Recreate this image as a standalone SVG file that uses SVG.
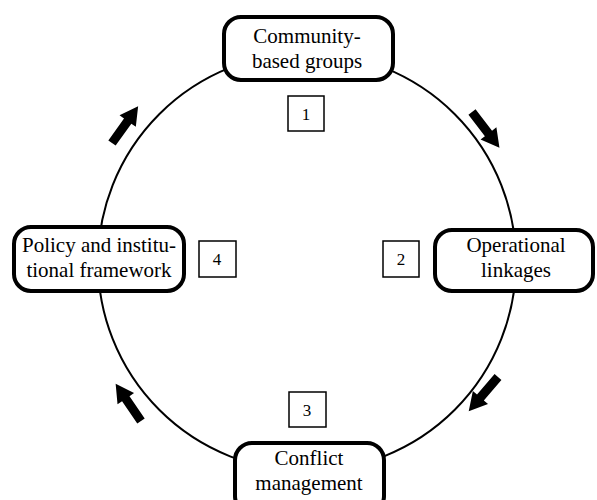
<svg xmlns="http://www.w3.org/2000/svg" width="597" height="500" viewBox="0 0 597 500">
<style>
.node{fill:#fff;stroke:#000;stroke-width:4}
.num{fill:#fff;stroke:#000;stroke-width:1.5}
.t{font-family:"Liberation Serif","Times New Roman",serif;font-size:21px;text-anchor:middle;fill:#000}
.n{font-family:"Liberation Serif","Times New Roman",serif;font-size:17px;text-anchor:middle;fill:#000}
.ring{fill:none;stroke:#000;stroke-width:2}
</style>
<defs>
<path id="arr" d="M0,-4.5 L27,-4.5 L27,-10 L45,0 L27,10 L27,4.5 L0,4.5 Z" fill="#000"/>
</defs>
<g id="connectors">
<circle class="ring" cx="307" cy="262" r="209"/>
<use href="#arr" transform="translate(112,143) rotate(-54.5)"/>
<use href="#arr" transform="translate(472,112) rotate(52.4)"/>
<use href="#arr" transform="translate(498,377) rotate(130.6)"/>
<use href="#arr" transform="translate(141,421) rotate(-124.3)"/>
</g>
<g id="node-community">
<rect class="node" x="224" y="17" width="169" height="63" rx="17"/>
<text class="t" x="307" y="43">Community-</text>
<text class="t" x="307" y="68">based groups</text>
</g>
<g id="node-operational">
<rect class="node" x="435" y="230" width="158" height="61" rx="17"/>
<text class="t" x="516" y="252">Operational</text>
<text class="t" x="516" y="277">linkages</text>
</g>
<g id="node-conflict">
<rect class="node" x="235" y="443" width="149" height="70" rx="17"/>
<text class="t" x="309" y="465">Conflict</text>
<text class="t" x="309" y="490">management</text>
</g>
<g id="node-policy">
<rect class="node" x="14" y="227" width="170" height="64" rx="17"/>
<text class="t" x="99" y="252">Policy and institu-</text>
<text class="t" x="99" y="277">tional framework</text>
</g>
<g id="label-1">
<rect class="num" x="288" y="96" width="36" height="35"/>
<text class="n" x="306" y="120">1</text>
</g>
<g id="label-2">
<rect class="num" x="383" y="241" width="36" height="36"/>
<text class="n" x="401" y="265">2</text>
</g>
<g id="label-3">
<rect class="num" x="289" y="392" width="37" height="35"/>
<text class="n" x="307" y="416">3</text>
</g>
<g id="label-4">
<rect class="num" x="199" y="241" width="37" height="36"/>
<text class="n" x="217" y="265">4</text>
</g>
</svg>
